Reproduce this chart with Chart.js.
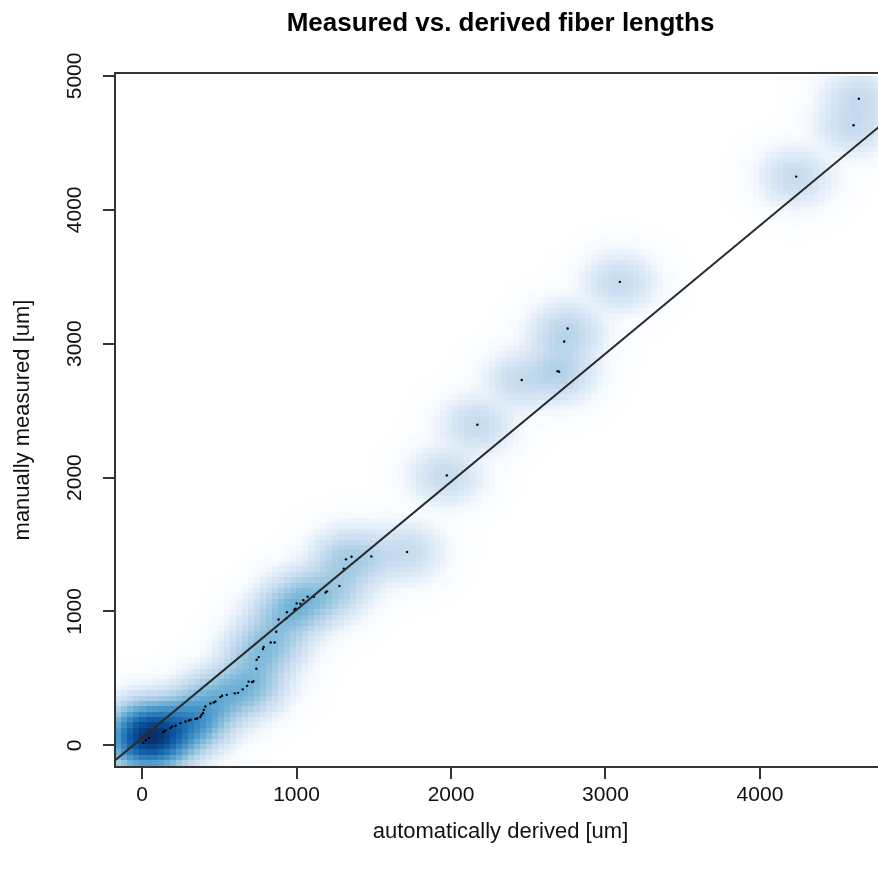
<!DOCTYPE html>
<html>
<head>
<meta charset="utf-8">
<script src="https://cdn.jsdelivr.net/npm/chart.js@4.4.0/dist/chart.umd.min.js"></script>
<style>
  html, body { margin: 0; padding: 0; background: #fff; overflow: hidden; }
  #wrap { width: 878px; height: 875px; overflow: hidden; }
</style>
</head>
<body>
<div id="wrap"><canvas id="chart" width="890" height="875"></canvas></div>
<script>
// fibres drawn as dots
const derived = [4640, 4606, 4235, 3093, 2755, 2733, 2690, 2700, 2458, 2171, 1973, 1716, 1484, 1356, 1320, 1306, 1278,
  1197, 1188, 1113, 1072, 1044, 1025, 1001, 994, 986, 938, 932, 884, 869, 858, 833, 787, 783, 755, 742, 740, 721,
  712, 690, 680, 652, 622, 600, 548, 518, 507, 475, 464, 443, 410, 400, 395, 385, 378, 357, 346, 314, 303, 281,
  249, 217, 195, 184, 152, 141, 137, 45, 25, 8];
const measured = [4830, 4632, 4248, 3462, 3113, 3016, 2794, 2790, 2729, 2395, 2016, 1444, 1411, 1409, 1389, 1320, 1190,
  1150, 1142, 1110, 1110, 1084, 1058, 1060, 1021, 1013, 994, 945, 940, 848, 768, 768, 734, 719, 659, 639, 572, 478,
  472, 476, 444, 418, 392, 388, 377, 370, 360, 327, 320, 312, 290, 265, 241, 228, 211, 200, 196, 191, 185, 178,
  166, 146, 141, 129, 111, 103, 99, 55, 38, 20];

// short fibres piled up near the origin (only visible through the density)
const clusterDerived = [15, 45, 80, 20, 110, 150, 60, 170, 230, 280, 320, 10];
const clusterMeasured = [35, 70, 45, 100, 85, 60, 130, 120, 140, 160, 190, 160];
const clusterCount = [22, 18, 15, 8, 9, 5, 6, 6, 5, 4, 4, 3];

const xTicks = [0, 1000, 2000, 3000, 4000];
const yTicks = [0, 1000, 2000, 3000, 4000, 5000];
const fitLine = [55, 0.957]; // intercept, slope

const xMin = -175, xMax = 4816, yMin = -162, yMax = 5022;
const ramp = ['#FFFFFF', '#F7FBFF', '#DEEBF7', '#C6DBEF', '#9ECAE1', '#6BAED6', '#4292C6', '#2171B5', '#08519C', '#08306B'];

const hex = c => [1, 3, 5].map(i => parseInt(c.substr(i, 2), 16));
const rampRGB = ramp.map(hex);
const rampColor = v => {
  const p = Math.max(0, Math.min(1, v)) * (rampRGB.length - 1);
  const i = Math.min(Math.floor(p), rampRGB.length - 2);
  const f = p - i;
  const c = rampRGB[i].map((a, k) => Math.round(a + (rampRGB[i + 1][k] - a) * f));
  return 'rgb(' + c.join(',') + ')';
};

// smoothScatter-like density under the dots
const densityPlugin = {
  id: 'density',
  beforeDatasetsDraw(chart) {
    const {ctx, chartArea, scales: {x, y}} = chart;
    const pts = derived.map((v, i) => [v, measured[i], 1]);
    clusterDerived.forEach((v, i) => pts.push([v, clusterMeasured[i], clusterCount[i]]));
    const bw = [105, 98];
    const nbin = 128;
    const x0 = Math.min(...pts.map(p => p[0])) - 1.5 * bw[0];
    const x1 = Math.max(...pts.map(p => p[0])) + 1.5 * bw[0];
    const y0 = Math.min(...pts.map(p => p[1])) - 1.5 * bw[1];
    const y1 = Math.max(...pts.map(p => p[1])) + 1.5 * bw[1];
    const dx = (x1 - x0) / (nbin - 1), dy = (y1 - y0) / (nbin - 1);
    const grid = [];
    let lo = Infinity, hi = -Infinity;
    for (let i = 0; i < nbin; i++) {
      for (let j = 0; j < nbin; j++) {
        const gx = x0 + i * dx, gy = y0 + j * dy;
        let d = 0;
        pts.forEach(p => {
          const u = (gx - p[0]) / bw[0], w = (gy - p[1]) / bw[1];
          const r = u * u + w * w;
          if (r < 40) d += p[2] * Math.exp(-r / 2);
        });
        const t = Math.pow(d, 0.25);
        grid.push([gx, gy, t]);
        lo = Math.min(lo, t); hi = Math.max(hi, t);
      }
    }
    ctx.save();
    ctx.beginPath();
    ctx.rect(chartArea.left, chartArea.top, chartArea.right - chartArea.left, chartArea.bottom - chartArea.top);
    ctx.clip();
    grid.forEach(g => {
      const v = Math.floor((g[2] - lo) / (hi - lo) * 255.999) / 255;
      if (v <= 0) return;
      const l = Math.floor(x.getPixelForValue(g[0] - dx / 2));
      const r = Math.ceil(x.getPixelForValue(g[0] + dx / 2));
      const t = Math.floor(y.getPixelForValue(g[1] + dy / 2));
      const b = Math.ceil(y.getPixelForValue(g[1] - dy / 2));
      ctx.fillStyle = rampColor(v);
      ctx.fillRect(l, t, r - l, b - t);
    });
    ctx.restore();
  },
  afterDraw(chart) {
    const {ctx, chartArea} = chart;
    ctx.save();
    ctx.strokeStyle = '#333';
    ctx.lineWidth = 2;
    ctx.strokeRect(chartArea.left, chartArea.top, chartArea.right - chartArea.left, chartArea.bottom - chartArea.top);
    ctx.restore();
  }
};

Chart.defaults.font.family = '"Liberation Sans", Arial, sans-serif';
Chart.defaults.color = '#111';

new Chart(document.getElementById('chart'), {
  type: 'scatter',
  data: {
    datasets: [{
      data: [xMin, xMax].map(v => ({x: v, y: fitLine[0] + fitLine[1] * v})),
      showLine: true,
      borderColor: '#2b2b2b',
      borderWidth: 2,
      pointRadius: 0
    }, {
      data: derived.map((v, i) => ({x: v, y: measured[i]})),
      pointRadius: 1.2,
      pointBorderWidth: 0,
      backgroundColor: '#000'
    }]
  },
  options: {
    responsive: false,
    animation: false,
    layout: { padding: { left: 0, right: 3, top: 0, bottom: 0 } },
    plugins: {
      legend: { display: false },
      tooltip: { enabled: false },
      title: {
        display: true,
        fullSize: false,
        text: 'Measured vs. derived fiber lengths',
        color: '#000',
        font: { size: 26, weight: 'bold' },
        padding: { top: 8, bottom: 33.8 }
      }
    },
    scales: {
      x: {
        type: 'linear',
        min: xMin,
        max: xMax,
        afterBuildTicks: s => { s.ticks = xTicks.map(v => ({value: v})); },
        afterFit: s => { s.height = 108; },
        border: { display: false },
        grid: { drawOnChartArea: false, drawTicks: true, tickLength: 12, tickColor: '#333', lineWidth: 2 },
        ticks: { font: { size: 21 }, padding: 4, maxRotation: 0, callback: v => String(v) },
        title: { display: true, text: 'automatically derived [um]', font: { size: 22 }, padding: { top: 0, bottom: 30 } }
      },
      y: {
        type: 'linear',
        min: yMin,
        max: yMax,
        afterBuildTicks: s => { s.ticks = yTicks.map(v => ({value: v})); },
        afterFit: s => { s.width = 115; },
        border: { display: false },
        grid: { drawOnChartArea: false, drawTicks: true, tickLength: 12, tickColor: '#333', lineWidth: 2 },
        ticks: { font: { size: 21 }, padding: 4, minRotation: 90, maxRotation: 90, crossAlign: 'center', callback: v => String(v) },
        title: { display: true, text: 'manually measured [um]', font: { size: 22 }, padding: { top: 10, bottom: 0 } }
      }
    }
  },
  plugins: [densityPlugin]
});
</script>
</body>
</html>
